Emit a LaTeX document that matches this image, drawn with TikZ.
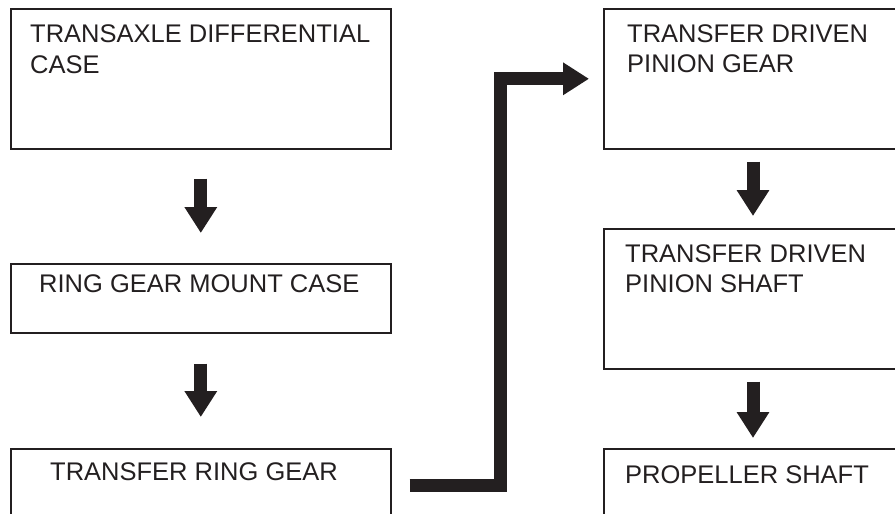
\documentclass[tikz,border=0pt]{standalone}
\usepackage{fontspec}
\setmainfont{Liberation Sans}
\usetikzlibrary{calc}
\usetikzlibrary{arrows.meta}
\definecolor{ink}{HTML}{231F20}

\begin{document}
\begin{tikzpicture}[x=1pt,y=-1pt]
\tikzstyle{box}=[draw=ink, line width=1.6pt, rectangle, anchor=north west, inner sep=0pt]
\tikzstyle{boxtxt}=[inner sep=0pt, align=left, text=ink, font=\fontsize{25.5}{30.5}\selectfont]
\tikzstyle{fatarrow}=[draw=ink, line width=13pt, -{Triangle[width=31pt,length=26pt]}]

\useasboundingbox (0,0) rectangle (895,514);
\clip (0,0) rectangle (895,514);

% left column
\node (tdc) at (10,8) [box, minimum width=380, minimum height=140] {};
\node (rgmc) at (10,263) [box, minimum width=380, minimum height=69] {};
\node (trg) at (10,448) [box, minimum width=380, minimum height=100] {};

% base is the last line of the text
\node (tdctxt) [boxtxt, anchor=base west] at ($(tdc.north west)+(20,65)$) {TRANSAXLE DIFFERENTIAL\\CASE};
\node (rgmctxt) [boxtxt, anchor=base west] at ($(rgmc.north west)+(29,29)$) {RING GEAR MOUNT CASE};
\node (trgtxt) [boxtxt, anchor=base west] at ($(trg.north west)+(40,32)$) {TRANSFER RING GEAR};

% right column
\node (tdpg) at (603,8) [box, minimum width=320, minimum height=140] {};
\node (tdps) at (603,228) [box, minimum width=320, minimum height=140] {};
\node (ps) at (603,448) [box, minimum width=320, minimum height=100] {};

\node (tdpgtxt) [boxtxt, anchor=base west] at ($(tdpg.north west)+(24,64.5)$) {TRANSFER DRIVEN\\PINION GEAR};
\node (tdpstxt) [boxtxt, anchor=base west] at ($(tdps.north west)+(22,64.5)$) {TRANSFER DRIVEN\\PINION SHAFT};
\node (pstxt) [boxtxt, anchor=base west] at ($(ps.north west)+(22,35)$) {PROPELLER SHAFT};

% arrows
\draw[fatarrow] ([yshift=-29pt]tdc.south) -- ([yshift=30pt]rgmc.north);
\draw[fatarrow] ([yshift=-30pt]rgmc.south) -- ([yshift=31pt]trg.north);
\draw[fatarrow] ([xshift=150pt,yshift=-12pt]tdpg.south west) -- ([xshift=150pt,yshift=12pt]tdps.north west);
\draw[fatarrow] ([xshift=150pt,yshift=-12pt]tdps.south west) -- ([xshift=150pt,yshift=10pt]ps.north west);

\coordinate (bend) at ($(tdpg.west)+(-102.5,0)$);
\draw[fatarrow] ($(trg.north east)+(18,37)$) -| (bend) -- ([xshift=-14pt]tdpg.west);

\end{tikzpicture}
\end{document}
